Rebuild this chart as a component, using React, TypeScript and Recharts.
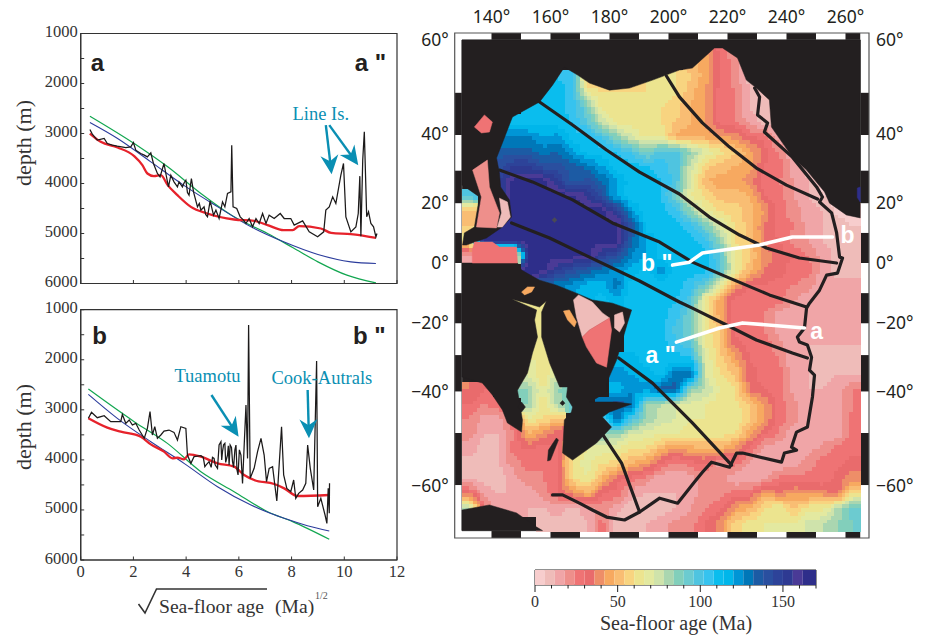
import React from "react";
import { ComposedChart, BarChart, Bar, Line, Scatter, XAxis, YAxis, ReferenceArea } from "recharts";

// ---------- depth profiles: [sqrt(age), depth]
const aGreen = [[0.35,2653],[2.03,3200],[3.3,3667],[4.56,4200],[5.82,4667],[7.09,5000],[8.04,5280],[9,5567],[10.1,5833],[11.2,5987]];
const aBlue = [[0.35,2780],[1.4,3100],[2.66,3567],[3.9,4033],[5.2,4467],[6.46,4867],[7.7,5167],[9,5420],[10.25,5567],[11.2,5600]];
const aRed = [[0.35,3000],[0.76,3167],[1.4,3280],[2.03,3453],[2.34,3633],[2.53,3800],[2.78,3853],[3.04,3833],[3.3,4033],[3.67,4233],[4.18,4467],[4.8,4600],[5.82,4720],[6.58,4747],[7.09,4833],[7.7,4933],[8.04,4933],[8.29,4853],[9.11,4900],[9.5,4987],[10.25,5013],[11.2,5087]];
const aBlack = [[0.35,2920],[0.44,3013],[0.63,3133],[0.89,3100],[1.01,3200],[1.2,3233],[1.39,3253],[1.71,3280],[1.9,3267],[2,3180],[2.09,3333],[2.28,3400],[2.41,3433],[2.53,3467],[2.66,3387],[2.76,3600],[2.91,3800],[3.01,3867],[3.16,3600],[3.23,3800],[3.33,4067],[3.42,3833],[3.54,3967],[3.67,4067],[3.73,3967],[3.86,4067],[3.93,3980],[3.99,3933],[4.05,4180],[4.11,4233],[4.2,3900],[4.28,4167],[4.43,4467],[4.5,4400],[4.56,4533],[4.68,4467],[4.74,4620],[4.81,4667],[4.91,4347],[5.04,4633],[5.13,4533],[5.25,4700],[5.38,4367],[5.47,4467],[5.57,4200],[5.7,4167],[5.73,3233],[5.78,4467],[5.92,4500],[6.05,4667],[6.18,4733],[6.27,4800],[6.39,4700],[6.52,4867],[6.65,4700],[6.77,4800],[6.9,4600],[7.03,4800],[7.15,4633],[7.34,4700],[7.57,4600],[7.72,4700],[7.97,4700],[8.1,4833],[8.42,4747],[8.67,4967],[8.99,5067],[9.22,4967],[9.3,4533],[9.43,4467],[9.56,4267],[9.68,4400],[9.87,3833],[9.97,3600],[10.06,4667],[10.25,4967],[10.44,4867],[10.53,4600],[10.59,3853],[10.63,5053],[10.7,3533],[10.76,2967],[10.85,4667],[10.92,4567],[11.01,4800],[11.11,4867],[11.2,5067],[11.24,5000]];

const bGreen = [[0.29,2585],[2.03,3237],[3.29,3670],[4.56,4236],[5.82,4635],[7.09,5035],[8.04,5234],[9.43,5587]];
const bBlue = [[0.29,2691],[1.39,3170],[2.66,3637],[3.92,4069],[5.19,4535],[6.46,4902],[7.72,5168],[8.6,5314],[9.43,5421]];
const bRed = [[0.29,3170],[1.01,3357],[1.52,3437],[2.28,3537],[2.66,3690],[3.16,3836],[3.48,3969],[3.67,3956],[3.92,3990],[4.11,3890],[4.56,3936],[5.19,4069],[5.82,4136],[6.2,4302],[6.58,4402],[7.34,4482],[7.72,4569],[8.23,4722],[9.43,4702]];
const bBlack = [[0.29,3170],[0.41,3051],[0.63,3157],[0.89,3117],[1.14,3237],[1.52,3237],[1.58,3091],[1.71,3270],[1.84,3204],[1.96,3304],[2.09,3270],[2.22,3404],[2.41,3570],[2.53,3370],[2.63,3037],[2.72,3503],[2.81,3337],[2.91,3570],[3.04,3503],[3.16,3424],[3.35,3404],[3.54,3450],[3.67,3603],[3.8,3337],[3.99,3370],[4.05,3903],[4.18,4069],[4.3,3936],[4.56,3916],[4.65,3950],[4.71,4136],[4.76,4100],[4.87,4036],[4.95,4150],[5,3950],[5.06,3970],[5.1,4100],[5.19,4169],[5.25,3700],[5.32,3637],[5.35,4000],[5.38,3836],[5.42,3700],[5.47,3670],[5.5,4050],[5.57,3903],[5.6,3720],[5.63,4100],[5.67,3703],[5.72,3750],[5.76,4036],[5.8,4150],[5.85,3800],[5.89,3703],[5.93,4200],[5.97,4302],[6.02,3800],[6.08,3903],[6.14,4469],[6.2,3736],[6.27,2904],[6.33,3970],[6.37,1306],[6.43,4369],[6.58,4169],[6.71,3836],[6.84,3570],[6.96,3903],[7.05,4436],[7.15,4169],[7.28,4136],[7.44,4822],[7.49,4436],[7.62,3337],[7.7,4302],[7.82,4569],[7.97,4635],[8.08,4402],[8.16,4768],[8.27,4669],[8.42,4602],[8.54,4469],[8.61,3703],[8.71,4169],[8.84,4602],[8.95,2025],[8.99,4935],[9.11,4768],[9.27,5101],[9.34,5268],[9.39,4569],[9.43,5068],[9.44,4469]];

const yTicks = [1000,1500,2000,2500,3000,3500,4000,4500,5000,5500,6000];
const xTicks = [0,2,4,6,8,10,12];

// ---------- age grid
const N = null;
const colLon = [132.5,137.5,142.5,147.5,152.5,157.5,162.5,167.5,172.5,177.5,182.5,187.5,192.5,197.5,202.5,207.5,212.5,217.5,222.5,227.5,232.5,237.5,242.5,247.5,252.5,257.5,262.5];
const rowNorthing = [73.1,68,63,58,52.9,47.9,42.9,37.8,32.8,27.7,22.7,17.7,12.6,7.6,2.5,-2.5,-7.5,-12.6,-17.6,-22.7,-27.7,-32.7,-37.8,-42.8,-47.9,-52.9,-57.9,-63,-68,-73.1,-78.1,-83.1,-88.2];
const ageRows = [
[N,N,N,N,N,N,N,N,N,N,N,N,N,N,N,48,42,27,21,N,N,N,N,N,N,N,N],
[N,N,N,N,N,N,N,N,N,N,N,N,N,N,N,51,45,30,21,12,N,N,N,N,N,N,N],
[N,N,N,N,N,N,108,105,48,55,55,55,60,63,60,54,45,30,21,9,N,N,N,N,N,N,N],
[N,N,N,N,N,111,111,105,66,60,60,60,60,63,60,50,42,27,24,12,9,N,N,N,N,N,N],
[N,N,N,N,111,110,111,105,90,63,63,60,60,60,57,48,42,27,24,12,9,9,N,N,N,N,N],
[N,N,N,111,111,111,110,108,96,75,63,63,60,60,54,48,42,27,24,15,9,9,N,N,N,N,N],
[N,N,126,126,126,120,122,111,110,100,85,72,63,66,45,45,45,42,39,30,27,12,9,N,N,N,N],
[N,N,135,135,135,129,132,120,111,111,108,100,87,100,100,84,72,63,54,45,33,24,12,9,N,N,N],
[N,N,140,150,150,140,141,135,129,120,111,111,108,105,99,75,57,51,48,45,30,27,15,9,3,N,N],
[N,N,150,165,165,165,150,135,141,132,120,111,111,108,100,72,48,45,45,39,27,24,18,12,3,N,N],
[100,N,150,165,165,165,165,165,155,140,117,111,111,108,90,66,60,51,51,48,30,27,18,12,6,3,N],
[51,N,165,165,165,165,165,165,165,165,150,120,111,111,105,84,66,60,57,51,42,27,21,15,12,3,3],
[54,N,165,165,165,165,165,165,165,165,165,140,111,111,111,105,90,72,60,51,36,27,24,15,12,9,6],
[66,165,165,165,165,165,165,165,165,165,165,132,120,111,111,111,105,84,60,54,36,30,21,18,12,9,6],
[12,24,24,27,165,165,165,165,165,150,140,126,120,111,111,111,111,96,66,54,39,33,30,24,15,9,6],
[N,N,N,N,165,165,150,141,135,129,123,117,111,123,111,111,111,100,66,51,36,33,27,27,15,9,9],
[N,N,N,N,N,129,129,123,117,117,129,111,111,111,111,105,93,66,42,30,30,27,24,21,12,15,15],
[N,N,N,60,60,63,N,117,117,111,117,111,111,111,108,99,63,45,27,27,30,27,18,12,12,15,15],
[N,N,N,N,60,60,N,N,N,N,N,111,111,111,105,90,63,45,27,27,24,15,12,12,12,15,12],
[N,N,N,N,60,60,N,N,N,N,N,111,111,111,99,90,63,54,27,27,24,15,12,12,12,12,12],
[N,N,N,N,63,63,N,N,N,N,N,111,111,111,105,96,66,54,33,27,27,21,12,12,12,12,12],
[N,N,N,N,66,66,N,N,N,N,117,117,111,111,111,111,72,57,45,30,27,24,12,12,9,9,9],
[N,N,N,N,72,60,75,N,N,N,123,120,117,111,132,135,72,60,54,33,27,27,15,12,9,12,12],
[36,30,N,84,84,66,84,90,N,N,117,123,123,135,135,84,78,66,60,33,30,27,15,12,12,15,24],
[30,24,30,N,84,60,81,93,N,129,135,132,84,78,72,69,66,63,63,54,42,27,21,12,12,15,24],
[24,15,15,30,66,60,51,N,N,100,129,100,84,75,72,66,66,66,66,54,42,27,21,12,12,15,27],
[21,12,12,24,48,39,30,N,N,84,84,72,69,66,66,63,63,63,60,45,30,24,12,12,12,15,27],
[15,9,12,27,30,27,30,60,66,70,66,60,60,48,39,45,48,48,39,27,15,12,12,15,21,27,27],
[9,9,12,21,27,24,30,63,69,60,57,48,42,30,21,27,30,15,27,15,12,12,15,21,27,27,33],
[12,9,9,15,21,24,30,60,66,48,33,27,21,12,12,15,21,24,12,15,15,27,27,27,24,33,39],
[33,15,12,12,15,21,30,39,48,30,27,15,12,12,12,15,21,21,27,27,45,36,42,39,39,33,60],
[81,27,12,12,12,12,15,9,15,21,15,6,6,9,12,18,24,27,42,48,60,66,54,63,63,81,93],
[N,N,N,N,N,9,9,9,12,27,6,9,12,15,21,21,30,39,57,63,66,66,66,75,78,84,90],
];
const ageColors = ["#f7cdcd","#efbcb9","#f0a5a7","#ee8f8b","#ef7374","#e96b6c","#ee8e68","#f7a960","#f9bd73","#f8d480","#ece48f","#e3e9a0","#cfe3ab","#aad6b0","#82cfbb","#6ccbd0","#4fc4e0","#36c3ef","#0abdee","#00b6ea","#0095d6","#0077b8","#1c5ba4","#2a4f9f","#2d4399","#2e3a92","#4a3a96","#2e2e8a"];

// ---------- land and patches: [lon, Mercator northing in equatorial degrees]
const northLand = [[130,75.6],[265,75.6],[265,15.3],[260.3,16.3],[254.6,20.3],[252.9,24.1],[246.8,31.5],[242,35.9],[234.9,46.1],[234.2,55.3],[229.8,59.3],[226.4,62],[223.4,69.5],[218.3,72.9],[215.6,72.9],[208.1,66.1],[203.7,65.4],[194.6,62],[186.8,59.3],[180,58.6],[173.2,61],[169.2,63.7],[164.7,66.4],[160.7,60.3],[156.3,54.6],[147.1,49.5],[145.4,45.1],[143.7,40.7],[141.7,35.6],[142.7,30.5],[143.1,25.8],[146.1,21.4],[146.8,15.6],[143.7,12.2],[138.3,8.5],[131.5,6.1],[130.2,6.1],[130.8,10.2],[134.2,12.2],[135.9,22.4],[130.2,26.4],[130,26.4]];
const southLand = [[130,0],[148.8,0],[150.2,-2.4],[156.3,-5.8],[162,-7.5],[168.8,-10.2],[174.2,-12.5],[181,-13.6],[187.5,-15.9],[186.1,-20.3],[182.4,-32.9],[179,-40.7],[179,-43.7],[175.6,-45.8],[173.2,-47.1],[182.4,-47.1],[187.5,-47.8],[180,-50.5],[177.6,-52.2],[180.7,-55.6],[175.6,-61],[167.5,-66.8],[164.1,-64.4],[164.7,-53.2],[167.1,-50.5],[167.5,-48.8],[165.4,-45.4],[165.8,-42],[163.1,-42],[159.7,-33.9],[157,-25.1],[157,-16.6],[158.6,-12.9],[156.3,-14.9],[151.9,-13.6],[146.8,-12.2],[155.3,-15.9],[154.6,-19.3],[155.6,-25.1],[153.9,-30.5],[152.2,-37.3],[148.8,-43.1],[150.5,-53.2],[150.2,-57.3],[145.4,-54.2],[143.7,-49.8],[140.3,-44.7],[136.9,-40.7],[130,-38.6]];
const antarctica = [[130,-83.7],[139.3,-82],[148.5,-84.7],[155.3,-89.5],[157.3,-90.7],[130,-90.7]];
const tasmania = [[148.8,-48.8],[150.2,-47.1],[151.5,-48.8],[150.2,-50.5]];
const isletEast = [[163.2,-47.5],[164.1,-46.6],[164.9,-47.5],[164.1,-48.3]];
const slit = [[162,-59.3],[162.7,-60],[160,-66.8],[159,-67.1],[159.3,-63.4]];
const patches = [
  { age: 27, pts: [[134.2,46.1],[137.6,50.2],[140.3,47.8],[139.3,44.4],[136.6,44.1]] },
  { age: 21, pts: [[133.6,31.5],[138.6,34.9],[139.3,25.8],[142.7,17],[141.7,11.9],[134.9,12.2],[136.6,22.4]] },
  { age: 6, pts: [[142.7,22],[145.4,20.7],[146.4,15.6],[143.7,12.2],[142,12.2],[143.4,17]] },
  { age: 24, pts: [[133.5,4.4],[134.2,7.1],[140.3,7.1],[142.7,5.4],[148.5,5.4],[148.8,0],[133.5,0]] },
  { age: 9, pts: [[167.8,-12.5],[169.5,-10.8],[174.2,-13.2],[177.6,-16.9],[180,-18.6],[173.2,-22.7],[170.8,-25.1],[168.8,-18.3]] },
  { age: 27, pts: [[170.8,-25.1],[173.2,-22.7],[180,-18.6],[180.7,-22.7],[179,-35.3],[175.6,-33.9],[172.2,-28.5]] },
  { age: 9, pts: [[181.7,-17.6],[184.4,-16.6],[185.1,-20.3],[183.4,-23.4],[181.7,-22]] },
  { age: 45, pts: [[164.4,-16.3],[166.4,-15.9],[168.8,-20],[168.1,-21.7],[165.8,-19.3]] },
  { age: 45, pts: [[150.2,-9.8],[152.2,-8.1],[154.6,-8.1],[153.6,-9.8],[151.2,-10.8]] },
  { age: 165, pts: [[264,25.4],[265,25.8],[265,20.7],[264,22.2]] },
];
const seamount = [[160.5,14.6],[161.4,15.4],[162.2,14.6],[161.4,13.7]];

const flowLines = [
  [[199.3,63.4],[203.7,56.3],[211.5,47.5],[220.7,39.3],[229.8,32.2],[240,26.4],[250.5,21.7]],
  [[156.3,54.6],[167.5,46.8],[179,38.3],[190.2,30.8],[203.7,23.4],[213.9,15.6],[224.1,9.5],[233.2,5.1],[244.4,1.7],[257,0]],
  [[142.7,31.5],[153.9,27.5],[167.5,21.4],[181,13.6],[197,7.1],[208.1,0.3],[219.7,-4.7],[234.2,-10.8],[246.8,-14.9]],
  [[146.8,13.6],[159.7,8.5],[173.2,2],[190.2,-6.1],[203.7,-13.2],[208.1,-15.3],[219.7,-21],[229.8,-26.1],[242,-30.5],[247.1,-32.2]],
  [[183.1,-32.2],[194.6,-40.7],[203.7,-49.8],[208.1,-54.2],[221.4,-68.5]],
  [[177.6,-58],[184.1,-67.8],[190.2,-84.4]],
];
const ridge = [[229.2,59.3],[230.9,56.3],[230.2,50.2],[233.6,47.5],[232.5,44.4],[242,35.9],[250.2,25.8],[252.2,22.4],[251.2,20.7],[255.3,17],[257,10.2],[258,2],[259,1.7],[257.3,-3.4],[253.6,-4.1],[251.2,-9.2],[247.8,-13.6],[246.8,-15.3],[246.1,-22],[243.7,-25.1],[244.4,-26.8],[247.1,-27.8],[248.5,-31.9],[247.8,-36.3],[249.5,-38],[248.8,-45.4],[247.1,-55.6],[243.4,-57.3],[241.7,-62.4],[243.4,-63.4],[239.3,-64.4],[238.3,-67.5],[225.1,-64.4],[223.1,-64.4],[220.7,-69.2],[214.6,-67.5],[211.5,-70.9],[208.8,-74.2],[203.1,-81.4],[197,-79.7],[190.2,-84.4],[185.1,-87.1],[179,-86.1],[174.2,-83.7],[169.8,-81.4],[164.1,-78.6],[160.7,-78.6]];
const profileA = [[246.1,-22],[225.1,-20.3],[217.3,-22],[202.7,-26.8]];
const profileB = [[255.6,8.8],[242,8.8],[230.9,6.1],[211.5,3.4],[207.1,0.3],[201.4,-0.7]];

const lonTicks = [140,160,180,200,220,240,260];
const latTickNorthing = [75.5,43.7,20.4,0,-20.4,-43.7,-75.5];
const latTickLabels = ["60°","40°","20°","0°","−20°","−40°","−60°"];
const lonBandEdges = [130,140,150,160,170,180,190,200,210,220,230,240,250,260,265];
const latBandEdges = [75.6,57.7,43.4,31.3,20.2,10.2,0,-10.2,-20.5,-31.2,-43.6,-57.6,-75.3,-90.7];
const cbarTicks = [0,10,20,30,40,50,60,70,80,90,100,110,120,130,140,150,160,170];
const cbarMajor = [0,50,100,150];

// ---------- helpers
const DARK = "#231f20";
const TEAL = "#0a8fb3";
const SERIF = "'Liberation Serif', serif";
const SANS = "'Liberation Sans', sans-serif";
const MAPFONT = "'Noto Sans', sans-serif";
const colorOf = (age: number) => ageColors[Math.min(27, Math.floor(age / 6))];
const prof = (a: number[][]) => a.map(([x, d]) => ({ x, d }));
const geo = (a: number[][]) => a.map(([lon, n]) => ({ lon, n }));
const noShape = () => <g />;

const cells: any[] = [];
ageRows.forEach((row, i) => row.forEach((age, j) => {
  if (age !== null) cells.push({ lon: colLon[j], n: rowNorthing[i], age, i, j });
}));

// Each cell is shaded like a smoothed image of the grid: colour steps follow the
// age field between the neighbouring grid values.
const SUB = 4;
const CW = 14.78;
const CH = 14.87;
const gridAge = (i: number, j: number, own: number) => {
  const r = ageRows[Math.max(0, Math.min(ageRows.length - 1, i))];
  const v = r[Math.max(0, Math.min(26, j))];
  return v === null ? own : v;
};
const cellShape = (p: any) => {
  const { i, j, age } = p.payload;
  const out: any[] = [];
  for (let a = 0; a < SUB; a++) {
    for (let b = 0; b < SUB; b++) {
      const u = (b + 0.5) / SUB - 0.5;
      const v = (a + 0.5) / SUB - 0.5;
      const dj = u < 0 ? -1 : 1;
      const di = v < 0 ? -1 : 1;
      const fu = Math.abs(u);
      const fv = Math.abs(v);
      const val =
        age * (1 - fu) * (1 - fv) +
        gridAge(i, j + dj, age) * fu * (1 - fv) +
        gridAge(i + di, j, age) * (1 - fu) * fv +
        gridAge(i + di, j + dj, age) * fu * fv;
      const x0 = Math.round(p.cx - CW / 2 + (b * CW) / SUB);
      const x1 = Math.round(p.cx - CW / 2 + ((b + 1) * CW) / SUB);
      const y0 = Math.round(p.cy - CH / 2 + (a * CH) / SUB);
      const y1 = Math.round(p.cy - CH / 2 + ((a + 1) * CH) / SUB);
      out.push(
        <rect key={a * SUB + b} x={x0} y={y0} width={x1 - x0 + 1} height={y1 - y0 + 1} fill={colorOf(val)} shapeRendering="crispEdges" />
      );
    }
  }
  return <g>{out}</g>;
};
const fillLine = (fill: string) => (p: any) => (
  <path d={"M" + p.points.map((q: any) => `${q.x},${q.y}`).join("L") + "Z"} fill={fill} stroke={fill} strokeWidth={0.5} />
);
const strokeLine = (stroke: string, w: number) => (p: any) => (
  <path d={"M" + p.points.map((q: any) => `${q.x},${q.y}`).join("L")} fill="none" stroke={stroke} strokeWidth={w} strokeLinejoin="round" strokeLinecap="round" />
);
const arrowLine = (p: any) => {
  const [a, b] = p.points;
  const t = Math.atan2(b.y - a.y, b.x - a.x);
  const pt = (l: number, s: number) => `${b.x + l * Math.cos(t) - s * Math.sin(t)},${b.y + l * Math.sin(t) + s * Math.cos(t)}`;
  return (
    <g>
      <line x1={a.x} y1={a.y} x2={b.x - 6 * Math.cos(t)} y2={b.y - 6 * Math.sin(t)} stroke={TEAL} strokeWidth={2.4} />
      <polygon points={[pt(0, 0), pt(-19, 9), pt(-13, 0), pt(-19, -9)].join(" ")} fill={TEAL} />
    </g>
  );
};

const geoPoly = (key: string, pts: number[][], fill: string) => (
  <Scatter key={key} data={geo(pts)} shape={noShape} line={fillLine(fill)} isAnimationActive={false} />
);
const geoStroke = (key: string, pts: number[][], color: string, w: number) => (
  <Scatter key={key} data={geo(pts)} shape={noShape} line={strokeLine(color, w)} isAnimationActive={false} />
);
const geoText = (key: string, lon: number, n: number, text: string) => (
  <Scatter key={key} data={[{ lon, n }]} isAnimationActive={false} shape={(p: any) => (
    <text x={p.cx} y={p.cy} textAnchor="middle" dominantBaseline="central" fontFamily={SANS} fontWeight="bold" fontSize={23} fill="#fff">{text}</text>
  )} />
);
const note = (key: string, x: number, d: number, text: string, opts: any) => (
  <Scatter key={key} data={[{ x, d }]} isAnimationActive={false} shape={(p: any) => (
    <text x={p.cx} y={p.cy} textAnchor="middle" dominantBaseline="central" {...opts}>{text}</text>
  )} />
);
const tealNote = { fontFamily: SERIF, fontSize: 18.5, fill: TEAL };
const letterNote = { fontFamily: SANS, fontWeight: "bold", fontSize: 24, fill: DARK };
const arrow = (key: string, a: number[], b: number[]) => (
  <Scatter key={key} data={prof([a, b])} shape={noShape} line={arrowLine} isAnimationActive={false} />
);

const depthTick = (p: any) => {
  const v = p.payload.value;
  return (
    <g>
      <line x1={p.x} x2={p.x + 3.5} y1={p.y} y2={p.y} stroke="#333" strokeWidth={1} />
      {v % 1000 === 0 ? <text x={p.x - 3} y={p.y + 3.5} textAnchor="end" fontFamily={SERIF} fontSize={16.5} fill="#333">{v}</text> : null}
    </g>
  );
};
const ageTick = (labels: boolean) => (p: any) => (
  <g>
    <line x1={p.x} x2={p.x} y1={p.y} y2={p.y - 3.5} stroke="#333" strokeWidth={1} />
    {labels ? <text x={p.x} y={p.y + 17} textAnchor="middle" fontFamily={SERIF} fontSize={16.5} fill="#333">{p.payload.value}</text> : null}
  </g>
);

function Profile({ height, margin, axisH, green, blue, red, black, labels, extras, children }: any) {
  return (
    <ComposedChart width={420} height={height} margin={margin}>
      <XAxis type="number" dataKey="x" domain={[0, 12]} ticks={xTicks} interval={0} height={axisH} tickSize={0} tickMargin={0} tickLine={false} axisLine={{ stroke: "#333", strokeWidth: 1.2 }} tick={ageTick(labels)} />
      <YAxis type="number" dataKey="d" domain={[1000, 6000]} reversed ticks={yTicks} interval={0} width={80.7} tickSize={0} tickMargin={0} tickLine={false} axisLine={{ stroke: "#333", strokeWidth: 1.2 }} tick={depthTick} />
      <ReferenceArea x1={0} x2={12} y1={1000} y2={6000} fill="none" stroke="#333" strokeWidth={1.2} />
      <Line data={prof(green)} dataKey="d" type="monotone" stroke="#12a650" strokeWidth={1.2} dot={false} isAnimationActive={false} />
      <Line data={prof(blue)} dataKey="d" type="monotone" stroke="#2b3c9c" strokeWidth={1.1} dot={false} isAnimationActive={false} />
      <Line data={prof(red)} dataKey="d" type="monotone" stroke="#e6222b" strokeWidth={2.3} dot={false} isAnimationActive={false} />
      <Line data={prof(black)} dataKey="d" type="linear" stroke="#1c1a1a" strokeWidth={1.25} dot={false} isAnimationActive={false} />
      {extras}
      {children}
    </ComposedChart>
  );
}

const mapTickTop = (p: any) => (
  <text x={p.x} y={p.y - 10} textAnchor="middle" fontFamily={MAPFONT} fontSize={17.5} fill={DARK}>{p.payload.value}°</text>
);
const mapTickBottom = (p: any) => (
  <text x={p.x} y={p.y + 24} textAnchor="middle" fontFamily={MAPFONT} fontSize={17.5} fill={DARK}>{p.payload.value}°</text>
);
const latLabel = (v: number) => latTickLabels[latTickNorthing.indexOf(v)];
const mapTickLeft = (p: any) => (
  <text x={p.x - 6} y={p.y + 6} textAnchor="end" fontFamily={MAPFONT} fontSize={17.5} fill={DARK}>{latLabel(p.payload.value)}</text>
);
const mapTickRight = (p: any) => (
  <text x={p.x + 7} y={p.y + 6} textAnchor="start" fontFamily={MAPFONT} fontSize={17.5} fill={DARK}>{latLabel(p.payload.value)}</text>
);

const XD = [127.53, 267.97];
const YD = [-93.2, 77.97];
const bandFill = (i: number) => (i % 2 === 0 ? "#ffffff" : DARK);

function MapChart() {
  const bands: any[] = [];
  for (let i = 0; i < lonBandEdges.length - 1; i++) {
    bands.push(<ReferenceArea key={"t" + i} x1={lonBandEdges[i]} x2={lonBandEdges[i + 1]} y1={75.6} y2={YD[1]} fill={bandFill(i)} fillOpacity={1} stroke="none" />);
    bands.push(<ReferenceArea key={"b" + i} x1={lonBandEdges[i]} x2={lonBandEdges[i + 1]} y1={YD[0]} y2={-90.7} fill={bandFill(i)} fillOpacity={1} stroke="none" />);
  }
  for (let i = 0; i < latBandEdges.length - 1; i++) {
    bands.push(<ReferenceArea key={"l" + i} x1={XD[0]} x2={130} y1={latBandEdges[i + 1]} y2={latBandEdges[i]} fill={bandFill(i)} fillOpacity={1} stroke="none" />);
    bands.push(<ReferenceArea key={"r" + i} x1={265} x2={XD[1]} y1={latBandEdges[i + 1]} y2={latBandEdges[i]} fill={bandFill(i)} fillOpacity={1} stroke="none" />);
  }
  return (
    <ComposedChart width={528} height={635} margin={{ top: 13, left: 24.7, right: 29, bottom: 77 }}>
      <XAxis orientation="top" type="number" dataKey="lon" domain={XD} allowDataOverflow ticks={lonTicks} interval={0} height={20} tickSize={0} tickMargin={0} tickLine={false} axisLine={false} tick={mapTickTop} />
      <XAxis xAxisId="bottom" orientation="bottom" type="number" domain={XD} allowDataOverflow ticks={lonTicks} interval={0} height={20} tickSize={0} tickMargin={0} tickLine={false} axisLine={false} tick={mapTickBottom} />
      <YAxis type="number" dataKey="n" domain={YD} allowDataOverflow ticks={latTickNorthing} interval={0} width={30} tickSize={0} tickMargin={0} tickLine={false} axisLine={false} tick={mapTickLeft} />
      <YAxis yAxisId="right" orientation="right" type="number" domain={YD} allowDataOverflow ticks={latTickNorthing} interval={0} width={30} tickSize={0} tickMargin={0} tickLine={false} axisLine={false} tick={mapTickRight} />
      <ReferenceArea x1={130} x2={265} y1={-90.7} y2={75.6} fill={DARK} fillOpacity={1} stroke="none" />
      {bands}
      <Scatter data={cells} shape={cellShape} isAnimationActive={false} />
      {geoPoly("north", northLand, DARK)}
      {geoPoly("south", southLand, DARK)}
      {geoPoly("ant", antarctica, DARK)}
      {geoPoly("tas", tasmania, DARK)}
      {geoPoly("isl", isletEast, DARK)}
      {geoPoly("slit", slit, DARK)}
      {patches.map((q, i) => geoPoly("patch" + i, q.pts, colorOf(q.age)))}
      {geoPoly("sea", seamount, "#4a4a55")}
      {flowLines.map((l, i) => geoStroke("flow" + i, l, DARK, 3.2))}
      {geoStroke("ridge", ridge, DARK, 3.2)}
      {geoStroke("pa", profileA, "#ffffff", 3.6)}
      {geoStroke("pb", profileB, "#ffffff", 3.6)}
      {geoText("la", 250.2, -23, "a")}
      {geoText("lb", 260.7, 9.5, "b")}
      {geoText("la2", 197.3, -31.2, 'a "')}
      {geoText("lb2", 196, 0, 'b "')}
      <ReferenceArea x1={XD[0]} x2={XD[1]} y1={YD[0]} y2={YD[1]} fill="none" stroke="#555" strokeWidth={1.2} />
      <ReferenceArea x1={130} x2={265} y1={-90.7} y2={75.6} fill="none" stroke="#555" strokeWidth={1} />
    </ComposedChart>
  );
}

const cbarRow = [Object.fromEntries(ageColors.map((_, i) => ["l" + i, i === 27 ? 8 : 6]))];
const cbarTick = (p: any) => {
  const major = cbarMajor.includes(p.payload.value);
  return (
    <g>
      <line x1={p.x} x2={p.x} y1={p.y} y2={p.y + (major ? 7 : 3.5)} stroke="#222" strokeWidth={1} />
      {major ? <text x={p.x} y={p.y + 22} textAnchor="middle" fontFamily={SERIF} fontSize={16} fill="#333">{p.payload.value}</text> : null}
    </g>
  );
};

function ColorBar() {
  return (
    <BarChart width={350} height={75} layout="vertical" data={cbarRow} barCategoryGap={0} margin={{ top: 10, left: 35, right: 34, bottom: 10 }}>
      <XAxis type="number" domain={[0, 170]} ticks={cbarTicks} interval={0} height={40} tickSize={0} tickMargin={0} tickLine={false} axisLine={false} tick={cbarTick} />
      <YAxis type="category" hide width={0} />
      {ageColors.map((c, i) => (
        <Bar key={i} dataKey={"l" + i} stackId="age" fill={c} isAnimationActive={false} />
      ))}
      <ReferenceArea x1={0} x2={170} fill="none" stroke="#222" strokeWidth={1} />
    </BarChart>
  );
}

const abs = (left: number, top: number): React.CSSProperties => ({ position: "absolute", left, top });

export default function App() {
  return (
    <div style={{ position: "absolute", left: 0, top: 0, width: 928, height: 635, background: "#fff", overflow: "hidden" }}>
      <div style={abs(400, 0)}><MapChart /></div>
      <div style={abs(0, 0)}>
        <Profile height={300} margin={{ top: 33.5, left: 0, right: 23, bottom: 6.5 }} axisH={10} green={aGreen} blue={aBlue} red={aRed} black={aBlack} labels={false}
          extras={[
            note("n1", 9.11, 2600, "Line Is.", tealNote),
            arrow("a1", [9.3, 2833], [9.52, 3813]),
            arrow("a2", [9.43, 2833], [10.53, 3633]),
            note("l1", 0.63, 1587, "a", letterNote),
            note("l2", 10.99, 1587, 'a "', letterNote),
          ]}>
          <text transform="translate(31,143) rotate(-90)" textAnchor="middle" fontFamily={SERIF} fontSize={22} fill="#333">depth (m)</text>
        </Profile>
      </div>
      <div style={abs(0, 280)}>
        <Profile height={355} margin={{ top: 29.7, left: 0, right: 23, bottom: 45 }} axisH={30} green={bGreen} blue={bBlue} red={bRed} black={bBlack} labels={true}
          extras={[
            note("n2", 4.81, 2325, "Tuamotu", tealNote),
            note("n3", 9.15, 2372, "Cook-Autrals", tealNote),
            arrow("a3", [4.96, 2704], [5.99, 3537]),
            arrow("a4", [8.61, 2605], [8.66, 3570]),
            note("l3", 0.72, 1519, "b", letterNote),
            note("l4", 10.95, 1519, 'b "', letterNote),
          ]}>
          <text transform="translate(31,147) rotate(-90)" textAnchor="middle" fontFamily={SERIF} fontSize={22} fill="#333">depth (m)</text>
          <path d="M138.5,324 L145,333 L156.5,309 L267,309" fill="none" stroke="#333" strokeWidth={1.6} />
          <text x={159} y={333} fontFamily={SERIF} fontSize={19.6} fill="#333">Sea-floor age</text>
          <text x={275} y={333} fontFamily={SERIF} fontSize={19.6} fill="#333">(Ma)</text>
          <text x={315} y={319} fontFamily={SERIF} fontSize={10} fill="#555">1/2</text>
        </Profile>
      </div>
      <div style={abs(500, 560)}><ColorBar /></div>
      <div style={{ position: "absolute", left: 500, top: 613, width: 352, textAlign: "center", fontFamily: SERIF, fontSize: 20, color: "#333", lineHeight: "21px" }}>Sea-floor age (Ma)</div>
    </div>
  );
}
